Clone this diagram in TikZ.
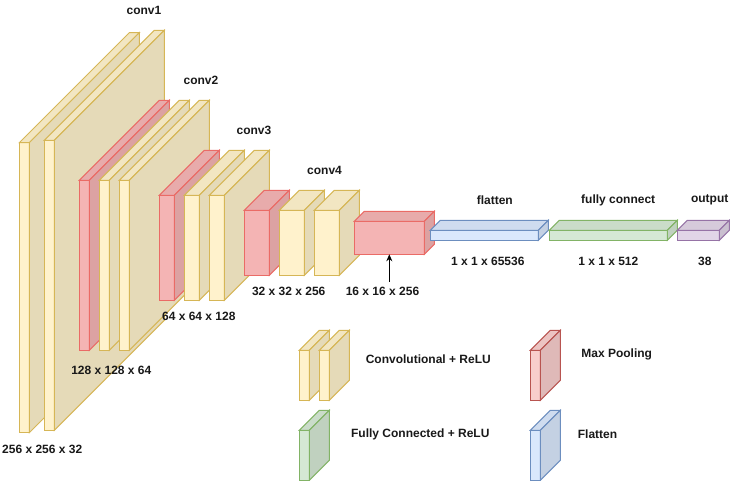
\documentclass[tikz,border=0pt]{standalone}
\usepackage{fontspec}
\setmainfont{Liberation Sans}
\usepackage{tikz}
\usetikzlibrary{arrows.meta}

\definecolor{convfill}{HTML}{FFF2CC}
\definecolor{convline}{HTML}{D6B656}
\definecolor{poolfill}{HTML}{F4B4B4}
\definecolor{poolline}{HTML}{EA6B66}
\definecolor{keypoolfill}{HTML}{F8CECC}
\definecolor{keypoolline}{HTML}{B85450}
\definecolor{flatfill}{HTML}{DAE8FC}
\definecolor{flatline}{HTML}{6C8EBF}
\definecolor{fcfill}{HTML}{D5E8D4}
\definecolor{fcline}{HTML}{82B366}
\definecolor{outfill}{HTML}{E1D5E7}
\definecolor{outline}{HTML}{9673A6}

\tikzset{
  face/.style={line width=1pt, line join=miter},
  frontface/.style={face, inner sep=0pt, outer sep=0pt, anchor=north west},
  lbl/.style={font=\bfseries\fontsize{12}{14}\selectfont, text=black!90, inner sep=0pt}
}

% name, x, y, width, height, depth, fill, line
\newcommand\layerbox[8]{%
  \node[frontface, fill=#7, draw=#8, minimum width=#4pt, minimum height=#5pt] (#1) at (#2,#3) {};
  \filldraw[face, fill=#7!95!black, draw=#8] (#1.north west) -- ++(#6,-#6) -- ++(#4,0) -- (#1.north east) -- cycle;
  \filldraw[face, fill=#7!90!black, draw=#8] (#1.north east) -- ++(#6,-#6) -- ++(0,#5) -- (#1.south east) -- cycle;
}

\begin{document}
\begin{tikzpicture}[x=1pt, y=-1pt]
  \useasboundingbox (0,0) rectangle (730,481);

  % Layers
  \layerbox{conv1a}{19.3}{142.7}{10}{290}{110}{convfill}{convline}
  \layerbox{conv1b}{44.3}{140.3}{10}{290}{110}{convfill}{convline}
  \layerbox{pool2}{79.3}{180.3}{10}{170}{80}{poolfill}{poolline}
  \layerbox{conv2a}{99.3}{180.3}{10}{170}{80}{convfill}{convline}
  \layerbox{conv2b}{119.3}{180.3}{10}{170}{80}{convfill}{convline}
  \layerbox{pool3}{159.3}{195.3}{15}{105}{45}{poolfill}{poolline}
  \layerbox{conv3a}{184.3}{195.3}{15}{105}{45}{convfill}{convline}
  \layerbox{conv3b}{209.3}{195.3}{15}{105}{45}{convfill}{convline}
  \layerbox{pool4}{244.3}{210.3}{25}{65}{20}{poolfill}{poolline}
  \layerbox{conv4a}{279.3}{210.3}{25}{65}{20}{convfill}{convline}
  \layerbox{conv4b}{314.3}{210.3}{25}{65}{20}{convfill}{convline}
  \layerbox{pool5}{354.3}{221.3}{70}{33}{10}{poolfill}{poolline}
  \layerbox{flat}{430.3}{230.3}{108}{10}{10}{flatfill}{flatline}
  \layerbox{fc}{549.3}{230.3}{118}{10}{10}{fcfill}{fcline}
  \layerbox{out}{677.3}{230.3}{42}{10}{10}{outfill}{outline}

  % Legend
  \layerbox{keyconva}{299.3}{350.3}{10}{50}{20}{convfill}{convline}
  \layerbox{keyconvb}{319.3}{350.3}{10}{50}{20}{convfill}{convline}
  \layerbox{keypool}{530.3}{350.3}{10}{50}{20}{keypoolfill}{keypoolline}
  \layerbox{keyfc}{299.3}{430.3}{10}{50}{20}{fcfill}{fcline}
  \layerbox{keyflat}{530.3}{430.3}{10}{50}{20}{flatfill}{flatline}

  % Labels
  \node[lbl] (conv1lbl) at (144,10) {conv1};
  \node[lbl] (conv2lbl) at (201,80) {conv2};
  \node[lbl] (conv3lbl) at (254,130) {conv3};
  \node[lbl] (conv4lbl) at (324.5,170) {conv4};
  \node[lbl] (flatlbl) at (494.8,200) {flatten};
  \node[lbl] (fclbl) at (618.2,200) {fully connect};
  \node[lbl] (outlbl) at (709.7,200) {output};

  \node[lbl] (size1) at (42.2,449.3) {256 x 256 x 32};
  \node[lbl] (size2) at (111.3,370) {128 x 128 x 64};
  \node[lbl] (size3) at (198.8,316.7) {64 x 64 x 128};
  \node[lbl] (size4) at (288.7,291.7) {32 x 32 x 256};
  \node[lbl] (size5) at (382.5,291.7) {16 x 16 x 256};
  \node[lbl] (size6) at (487.8,261.7) {1 x 1 x 65536};
  \node[lbl] (size7) at (608.3,261.7) {1 x 1 x 512};
  \node[lbl] (size8) at (704.8,261.7) {38};

  \node[lbl] (keyconvlbl) at (428.3,359.3) {Convolutional + ReLU};
  \node[lbl] (keypoollbl) at (616.7,354.3) {Max Pooling};
  \node[lbl] (keyfclbl) at (420.3,434.3) {Fully Connected + ReLU};
  \node[lbl] (keyflatlbl) at (597.5,434.3) {Flatten};

  % Arrow
  \coordinate (arrowfoot) at (389.3,281.7);
  \draw[line width=1pt, -{Stealth[length=7pt, width=6pt]}] (arrowfoot) -- (pool5.south);
\end{tikzpicture}
\end{document}
